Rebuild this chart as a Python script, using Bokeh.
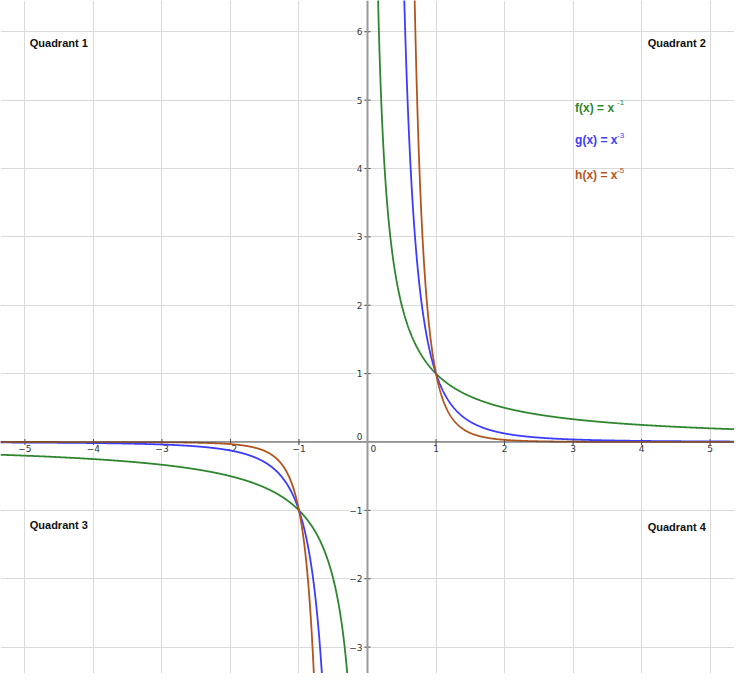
import numpy as np
from bokeh.plotting import figure
from bokeh.models import Span, FixedTicker, Range1d, Grid
from bokeh.core.properties import value
from bokeh.embed import file_html
from bokeh.resources import INLINE

# ---- data ----
exponents = [-1, -3, -5]
func_names = ["f(x) = x", "g(x) = x", "h(x) = x"]
func_sups = ["-1", "-3", "-5"]
func_colors = ["#2e862e", "#3c3cff", "#b3541e"]
legend_x = [3.03, 3.03, 3.03]
legend_y = [4.89, 4.41, 3.90]

x_ticks = [-5, -4, -3, -2, -1, 1, 2, 3, 4, 5]
x_tick_labels = ["\u22125", "\u22124", "\u22123", "\u22122", "\u22121", "1", "2", "3", "4", "5"]
y_ticks = [-3, -2, -1, 1, 2, 3, 4, 5, 6]
y_tick_labels = ["\u22123", "\u22122", "\u22121", "1", "2", "3", "4", "5", "6"]

quadrant_labels = ["Quadrant 1", "Quadrant 2", "Quadrant 3", "Quadrant 4"]
quadrant_x = [-4.93, 4.09, -4.93, 4.09]
quadrant_y = [5.83, 5.83, -1.21, -1.24]

x_min, x_max = -5.357, 5.357
y_min, y_max = -3.386, 6.457

p = figure(width=734, height=673, output_backend="svg", toolbar_location=None,
           x_axis_type=None, y_axis_type=None,
           x_range=Range1d(x_min, x_max), y_range=Range1d(y_min, y_max),
           min_border=0, outline_line_color=None)
p.background_fill_color = "white"
p.border_fill_color = "white"

grid_ticks_x = [t for t in range(-6, 7)]
grid_ticks_y = [t for t in range(-4, 8)]
p.add_layout(Grid(dimension=0, ticker=FixedTicker(ticks=grid_ticks_x),
                  grid_line_color="#dadada", grid_line_width=1))
p.add_layout(Grid(dimension=1, ticker=FixedTicker(ticks=grid_ticks_y),
                  grid_line_color="#dadada", grid_line_width=1))

# axes
p.add_layout(Span(location=0, dimension="width", line_color="#4a4a4a", line_width=1.2))
p.add_layout(Span(location=0, dimension="height", line_color="#9a9a9a", line_width=2))

# tick marks
p.scatter(x_ticks, [0] * len(x_ticks), marker="dash", angle=np.pi / 2, size=6,
          line_color="#4a4a4a", line_width=1)
p.scatter([0] * len(y_ticks), y_ticks, marker="dash", size=6,
          line_color="#4a4a4a", line_width=1)

# tick labels
p.text(x_ticks, [0] * len(x_ticks), text=x_tick_labels, text_align="center",
       text_baseline="top", y_offset=3, text_font=value("DejaVu Sans"),
       text_font_size="9px", text_color="#333333",
       background_fill_color="white")
p.text([0] * len(y_ticks), y_ticks, text=y_tick_labels, text_align="right",
       text_baseline="middle", x_offset=-5, text_font=value("DejaVu Sans"),
       text_font_size="9px", text_color="#333333",
       background_fill_color="white")
p.text([0], [0], text=["0"], text_align="right", text_baseline="bottom",
       x_offset=-5, y_offset=-2, text_font=value("DejaVu Sans"),
       text_font_size="9px", text_color="#333333")
p.text([0], [0], text=["0"], text_align="left", text_baseline="top",
       x_offset=3, y_offset=3, text_font=value("DejaVu Sans"),
       text_font_size="9px", text_color="#333333")

# curves
for e, c in zip(exponents, func_colors):
    for xs in (np.linspace(x_min, -0.03, 1500), np.linspace(0.03, x_max, 1500)):
        ys = 1.0 / xs ** (-e)
        m = np.abs(ys) < 12
        p.line(xs[m], ys[m], line_color=c, line_width=1.8)

# quadrant labels
p.text(quadrant_x, quadrant_y, text=quadrant_labels, text_align="left",
       text_baseline="middle", text_font=value("Liberation Sans"),
       text_font_size="11px", text_font_style="bold", text_color="#111111")

# function labels with superscripts
for lx, ly, nm, sp, c in zip(legend_x, legend_y, func_names, func_sups, func_colors):
    p.text([lx], [ly], text=[nm], text_align="left", text_baseline="middle",
           text_font=value("Liberation Sans"), text_font_size="12px",
           text_font_style="bold", text_color=c)
    p.text([lx], [ly], text=[sp], text_align="left", text_baseline="middle",
           x_offset=42, y_offset=-5, text_font=value("Liberation Sans"),
           text_font_size="8px", text_color=c)

open("out.html", "w").write(file_html(p, INLINE))
